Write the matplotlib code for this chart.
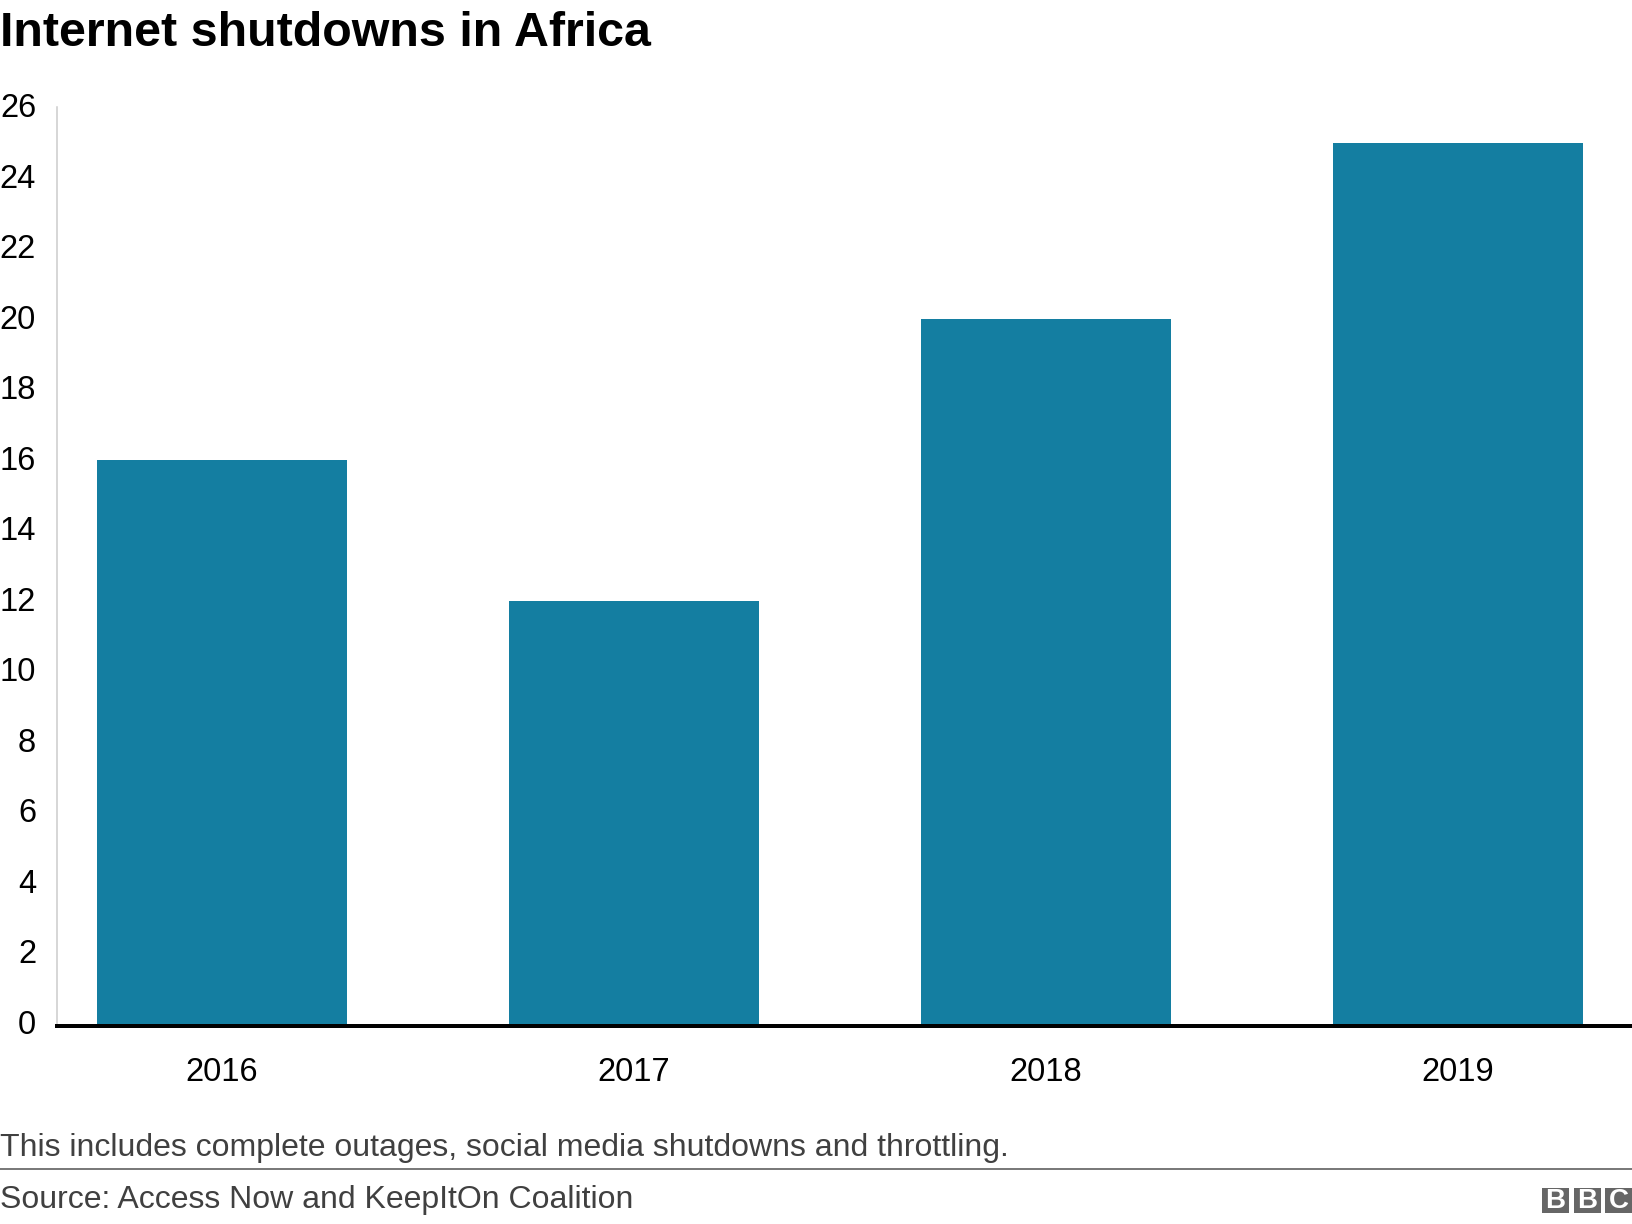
import matplotlib
matplotlib.use("Agg")
import matplotlib.pyplot as plt
from matplotlib.patches import Rectangle
from matplotlib.transforms import ScaledTranslation

years = ["2016", "2017", "2018", "2019"]
values = [16, 12, 20, 25]
yticks = list(range(0, 28, 2))
title = "Internet shutdowns in Africa"
note = "This includes complete outages, social media shutdowns and throttling."
source = "Source: Access Now and KeepItOn Coalition"

W, H = 1632, 1224
plt.rcParams['font.family'] = ['Liberation Sans', 'DejaVu Sans']
fig = plt.figure(figsize=(W / 100, H / 100), dpi=100, facecolor='white')

left, right = 57, 1632
top, bottom = 107.5, 1024.5
ax = fig.add_axes([left / W, 1 - bottom / H, (right - left) / W, (bottom - top) / H])
ax.bar(range(4), values, width=250 / 412, color='#147EA1', zorder=2)
ax.set_xlim(-165 / 412, (right - left - 165) / 412)
ax.set_ylim(0, 26)
ax.set_yticks(yticks)
ax.set_xticks(range(4))
ax.set_xticklabels(years)
ax.tick_params(axis='x', length=0, labelsize=23.5, pad=22.3, colors='#000000')
ax.tick_params(axis='y', length=0, labelsize=23.5, pad=15.1, colors='#000000')
offset = ScaledTranslation(0, 2.5 / 100, fig.dpi_scale_trans)
for lab in ax.get_yticklabels():
    lab.set_transform(lab.get_transform() + offset)
for s in ['top', 'right']:
    ax.spines[s].set_visible(False)
ax.spines['left'].set_color('#cccccc')
ax.spines['left'].set_linewidth(1.1)
ax.spines['bottom'].set_color('#000000')
ax.spines['bottom'].set_linewidth(2.88)
ax.spines['bottom'].set_position(('outward', 1.08))
ax.spines['bottom'].set_zorder(3)

fig.text(0, 1 - 33 / H, title, fontsize=34.8, fontweight='bold', va='center', ha='left', color='black')
fig.text(0, 1 - 1148 / H, note, fontsize=23.05, va='center', ha='left', color='#404040')
fig.add_artist(plt.Line2D([0, 1], [1 - 1169 / H] * 2, color='#777777', lw=1.4))
fig.text(0, 1 - 1200 / H, source, fontsize=23.05, va='center', ha='left', color='#404040')

# BBC logo
logo_x = [1542, 1574, 1605]
for x, ch in zip(logo_x, "BBC"):
    fig.add_artist(Rectangle((x / W, 1 - 1213 / H), 27 / W, 25 / H, transform=fig.transFigure, color='#666666', lw=0))
    fig.text((x + 13.5) / W, 1 - 1200.5 / H, ch, fontsize=20, fontweight='bold', color='white', ha='center', va='center')

fig.savefig('out.png', dpi=100, facecolor='white')
